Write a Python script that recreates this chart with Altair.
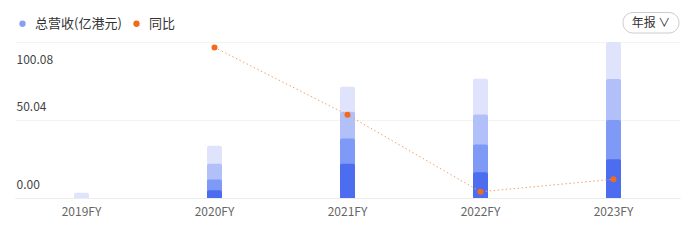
import altair as alt
import pandas as pd

# Fiscal years and cumulative revenue (亿港元) reported at each period of the year
years = ["2019FY", "2020FY", "2021FY", "2022FY", "2023FY"]
q1 = [None, 4.9, 22.0, 16.5, 24.9]          # 一季报
h1 = [None, 11.8, 38.1, 34.3, 50.0]         # 中报
q3 = [None, 21.9, 55.3, 53.5, 76.3]         # 三季报
annual = [3.3, 33.6, 71.4, 76.5, 100.08]    # 年报

# Year-on-year growth line (drawn on its own hidden scale)
yoy_years = ["2020FY", "2021FY", "2022FY", "2023FY"]
yoy = [96.5, 53.3, 4.0, 12.0]

y_ticks = [0, 50.04, 100.08]

periods = ["年报", "三季报", "中报", "一季报"]
period_colors = ["#dfe4fc", "#b1c0f9", "#7f99f6", "#4c6df0"]

# Longest period first so the shorter cumulative bars are painted over it
rows = []
for name, series in zip(periods, [annual, q3, h1, q1]):
    for yr, v in zip(years, series):
        if v is not None:
            rows.append({"year": yr, "period": name, "revenue": v})
bars_df = pd.DataFrame(rows)

yoy_df = pd.DataFrame({"year": yoy_years, "yoy": yoy, "series": ["同比"] * len(yoy)})

x_enc = alt.X(
    "year:N",
    sort=years,
    scale=alt.Scale(domain=years, paddingInner=0, paddingOuter=0),
    axis=alt.Axis(
        title=None, labelAngle=0, ticks=False, domain=True, domainColor="#ececec",
        labelPadding=8, labelColor="#666666", labelFontSize=12,
    ),
)

bars = alt.Chart(bars_df).mark_bar(size=15, cornerRadiusTopLeft=2, cornerRadiusTopRight=2).encode(
    x=x_enc,
    y=alt.Y(
        "revenue:Q",
        stack=None,
        scale=alt.Scale(domain=[0, 100.08], nice=False, zero=True),
        axis=alt.Axis(
            title=None, values=y_ticks, format=".2f", grid=True, gridColor="#f3f3f3",
            domain=False, ticks=False, tickSize=0, labelAlign="left", labelPadding=-1,
            labelBaseline="middle", labelColor="#444444", labelFontSize=12,
            labelOffset={"condition": {"test": "datum.value > 100", "value": 17}, "value": -13.5},
        ),
    ),
    color=alt.Color(
        "period:N",
        scale=alt.Scale(domain=periods, range=period_colors),
        legend=None,
    ),
)

yoy_y = alt.Y("yoy:Q", scale=alt.Scale(domain=[0, 100], nice=False), axis=None)

line = alt.Chart(yoy_df).mark_line(
    color="#f4a06a", strokeWidth=1, strokeDash=[1.5, 2.5]
).encode(x=alt.X("year:N", sort=years), y=yoy_y)

points = alt.Chart(yoy_df).mark_point(filled=True, size=36, opacity=1).encode(
    x=alt.X("year:N", sort=years),
    y=yoy_y,
    color=alt.Color(
        "series:N",
        scale=alt.Scale(domain=["总营收(亿港元)", "同比"], range=["#8c9ef0", "#f26b1d"]),
        legend=alt.Legend(
            title=None, orient="none", legendX=1, legendY=-25, direction="horizontal",
            symbolType="circle", symbolSize=40, symbolStrokeWidth=0, labelFontSize=13,
            labelColor="#333333", labelOffset=6, columnPadding=8, padding=0,
        ),
    ),
)

# Period selector pill in the top-right corner
ui_df = pd.DataFrame({"label": ["年报 ∨"]})
pill = alt.Chart(ui_df).mark_rect(
    cornerRadius=10, fill="white", stroke="#cccccc", strokeWidth=1
).encode(x=alt.value(608), x2=alt.value(664), y=alt.value(-29.5), y2=alt.value(-9))
pill_text = alt.Chart(ui_df).mark_text(
    fontSize=12, color="#333333", align="center", baseline="middle"
).encode(x=alt.value(636), y=alt.value(-19.5), text="label:N")

chart = (
    alt.layer(bars, line, points, pill, pill_text)
    .resolve_scale(y="independent", color="independent")
    .properties(
        width=665, height=156,
        autosize=alt.AutoSizeParams(type="none"),
        padding={"left": 15, "top": 42, "right": 15, "bottom": 43},
        background="white",
    )
    .configure(font="Noto Sans CJK SC")
    .configure_view(stroke=None)
)

chart.save("out.html", embed_options={"renderer": "svg", "actions": False})
